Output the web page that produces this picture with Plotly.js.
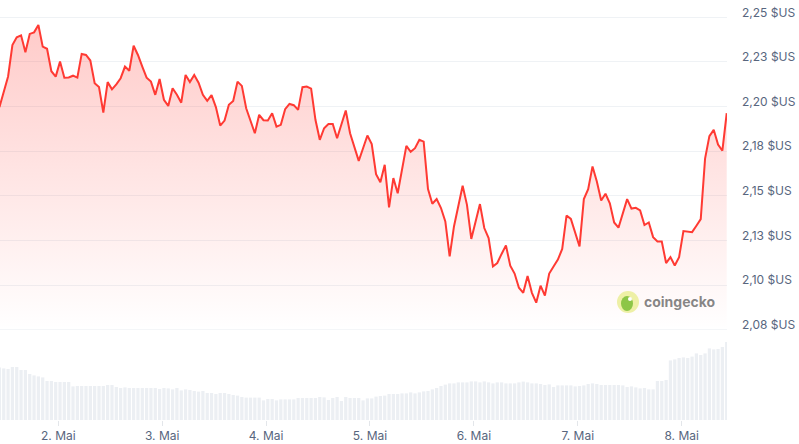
<!DOCTYPE html>
<html>
<head>
<meta charset="utf-8">
<script src="https://cdn.plot.ly/plotly-3.0.1.min.js"></script>
<style>
  html, body { margin: 0; padding: 0; background: #ffffff; }
  #chart { width: 799px; height: 444px; }
</style>
</head>
<body>
<div id="chart"></div>
<script>
// Hourly readings, first reading at 1 May 10:24
const startTime = Date.UTC(2025, 4, 1, 10, 24);

const priceUSD = [
  2.1997,2.2090,2.2169,2.2345,2.2388,2.2399,2.2304,2.2407,2.2416,2.2457,
  2.2336,2.2324,2.2198,2.2168,2.2252,2.2162,2.2163,2.2173,2.2162,2.2295,
  2.2289,2.2258,2.2131,2.2110,2.1967,2.2137,2.2097,2.2125,2.2159,2.2224,
  2.2201,2.2341,2.2289,2.2224,2.2162,2.2140,2.2066,2.2155,2.2038,2.2004,
  2.2103,2.2066,2.2022,2.2177,2.2137,2.2177,2.2134,2.2066,2.2032,2.2064,
  2.1997,2.1894,2.1922,2.2010,2.2032,2.2140,2.2116,2.1991,2.1922,2.1851,
  2.1954,2.1924,2.1922,2.1963,2.1888,2.1898,2.1986,2.2015,2.2008,2.1982,
  2.2109,2.2112,2.2101,2.1926,2.1814,2.1879,2.1903,2.1903,2.1823,2.1903,
  2.1978,2.1851,2.1776,2.1696,2.1767,2.1838,2.1790,2.1622,2.1576,2.1674,
  2.1436,2.1600,2.1515,2.1646,2.1780,2.1747,2.1767,2.1814,2.1804,2.1538,
  2.1456,2.1482,2.1432,2.1357,2.1161,2.1329,2.1441,2.1557,2.1450,2.1259,
  2.1357,2.1454,2.1320,2.1264,2.1105,2.1124,2.1175,2.1223,2.1109,2.1065,
  2.0986,2.0957,2.1052,2.0957,2.0902,2.0997,2.0942,2.1065,2.1105,2.1143,
  2.1203,2.1390,2.1371,2.1292,2.1217,2.1482,2.1538,2.1665,2.1581,2.1474,
  2.1512,2.1458,2.1351,2.1322,2.1404,2.1482,2.1429,2.1433,2.1419,2.1337,
  2.1351,2.1269,2.1245,2.1245,2.1124,2.1157,2.1110,2.1157,2.1303,2.1299,
  2.1297,2.1333,2.1370,2.1709,2.1835,2.1870,2.1788,2.1753,2.1963
];

// Trading volume (billions USD)
const volumeB = [
  2.63,2.58,2.55,2.65,2.65,2.50,2.50,2.30,2.23,2.18,
  2.13,1.95,1.95,1.90,1.90,1.90,1.90,1.68,1.70,1.70,
  1.70,1.70,1.70,1.70,1.70,1.75,1.75,1.65,1.60,1.63,
  1.60,1.60,1.60,1.60,1.60,1.60,1.60,1.55,1.60,1.58,
  1.53,1.60,1.48,1.53,1.50,1.45,1.42,1.45,1.35,1.35,
  1.30,1.35,1.35,1.30,1.25,1.22,1.15,1.12,1.12,1.12,
  1.12,0.98,1.05,1.05,0.98,1.03,1.03,1.03,1.03,1.10,
  1.10,1.10,1.10,1.10,1.15,1.13,1.00,1.10,1.15,0.95,
  1.15,1.10,1.10,1.10,0.98,1.08,1.08,1.17,1.20,1.22,
  1.30,1.30,1.30,
  1.33,1.33,1.38,1.33,1.38,1.43,1.45,1.53,1.60,1.70,
  1.77,1.83,1.83,1.88,1.88,1.88,1.93,1.93,1.88,1.93,
  1.88,1.83,1.88,1.88,1.83,1.83,1.83,1.88,1.92,1.88,
  1.83,1.83,1.80,1.75,1.78,1.65,1.73,1.73,1.73,1.73,
  1.68,1.70,1.73,1.80,1.83,1.80,1.75,1.75,1.75,1.75,
  1.75,1.73,1.65,1.68,1.63,1.58,1.60,1.53,1.53,1.95,
  1.95,2.00,2.98,3.03,3.10,3.13,3.10,3.17,3.33,3.25,
  3.33,3.58,3.53,3.55,3.65,3.90
];

const dayTickValues = ['2025-05-02','2025-05-03','2025-05-04','2025-05-05','2025-05-06','2025-05-07','2025-05-08'];
const dayTickLabels = ['2. Mai','3. Mai','4. Mai','5. Mai','6. Mai','7. Mai','8. Mai'];

const priceTickValues = [2.075, 2.1, 2.125, 2.15, 2.175, 2.2, 2.225, 2.25];
const priceTickLabels = ['2,08 $US','2,10 $US','2,13 $US','2,15 $US','2,18 $US','2,20 $US','2,23 $US','2,25 $US'];

function pad(n){ return (n < 10 ? '0' : '') + n; }
function stamp(ms){
  const d = new Date(ms);
  return d.getUTCFullYear() + '-' + pad(d.getUTCMonth()+1) + '-' + pad(d.getUTCDate()) +
         ' ' + pad(d.getUTCHours()) + ':' + pad(d.getUTCMinutes());
}
const times = priceUSD.map((_, i) => stamp(startTime + i * 3600000));

const labelColor = '#58667e';
const gridColor = '#eff2f5';

const traces = [
  {
    type: 'bar',
    x: times,
    y: volumeB,
    xaxis: 'x',
    yaxis: 'y2',
    marker: { color: '#eceff3', line: { width: 0 } },
    hoverinfo: 'skip'
  },
  {
    type: 'scatter',
    mode: 'lines',
    x: times,
    y: priceUSD,
    xaxis: 'x',
    yaxis: 'y',
    line: { color: '#ff3a33', width: 2 },
    fill: 'tozeroy',
    fillgradient: {
      type: 'vertical',
      start: 2.075,
      stop: 2.25,
      colorscale: [[0, 'rgba(255,58,51,0.0)'], [1, 'rgba(255,58,51,0.27)']]
    },
    hoverinfo: 'skip'
  }
];

const layout = {
  width: 799,
  height: 444,
  margin: { l: 0, r: 72, t: 0, b: 24 },
  paper_bgcolor: '#ffffff',
  plot_bgcolor: 'rgba(0,0,0,0)',
  showlegend: false,
  bargap: 0.25,
  font: { family: 'Inter, "Noto Sans", sans-serif', size: 12, color: labelColor },
  xaxis: {
    type: 'date',
    anchor: 'y2',
    range: ['2025-05-01 10:32', '2025-05-08 10:28'],
    tickvals: dayTickValues,
    ticktext: dayTickLabels,
    ticks: 'outside',
    ticklen: 5,
    tickcolor: '#e3e6ea',
    tickwidth: 1,
    showgrid: false,
    zeroline: false,
    showline: false,
    tickfont: { size: 12, color: labelColor }
  },
  yaxis: {
    domain: [90/420, 1],
    anchor: 'x',
    side: 'right',
    range: [2.0749, 2.2597],
    tickvals: priceTickValues,
    ticktext: priceTickLabels,
    showgrid: true,
    gridcolor: gridColor,
    gridwidth: 1,
    zeroline: false,
    showline: false,
    ticks: '',
    ticklabelstandoff: 14,
    ticklabelshift: -5,
    tickfont: { size: 12, color: labelColor }
  },
  yaxis2: {
    domain: [0, 0.2],
    anchor: 'x',
    range: [0, 4.2],
    showgrid: false,
    zeroline: false,
    showticklabels: false,
    showline: false,
    ticks: ''
  },
  shapes: [
    { type: 'line', xref: 'paper', yref: 'y', x0: 0, x1: 1, y0: 2.075, y1: 2.075,
      line: { color: gridColor, width: 1 }, layer: 'above' },
    { type: 'circle', xref: 'paper', yref: 'paper', xsizemode: 'pixel', ysizemode: 'pixel',
      xanchor: 628/727, yanchor: (420-302)/420, x0: -11, x1: 11, y0: -11, y1: 11,
      fillcolor: '#eef0a6', line: { width: 0 } },
    { type: 'circle', xref: 'paper', yref: 'paper', xsizemode: 'pixel', ysizemode: 'pixel',
      xanchor: 628/727, yanchor: (420-302)/420, x0: -7, x1: 5, y0: -9, y1: 6,
      fillcolor: '#8dc647', line: { width: 0 } },
    { type: 'circle', xref: 'paper', yref: 'paper', xsizemode: 'pixel', ysizemode: 'pixel',
      xanchor: 628/727, yanchor: (420-302)/420, x0: 0, x1: 4, y0: 1, y1: 5,
      fillcolor: '#ffffff', line: { width: 0 } }
  ],
  annotations: [
    { xref: 'paper', yref: 'paper', x: 680/727, y: (420-301)/420,
      xanchor: 'center', yanchor: 'middle', showarrow: false,
      text: 'coingecko',
      font: { family: 'Inter, "Noto Sans", sans-serif', size: 14, weight: 700, color: 'rgba(95,95,95,0.75)' } }
  ]
};

Plotly.newPlot('chart', traces, layout, { staticPlot: true, displayModeBar: false });
</script>
</body>
</html>
